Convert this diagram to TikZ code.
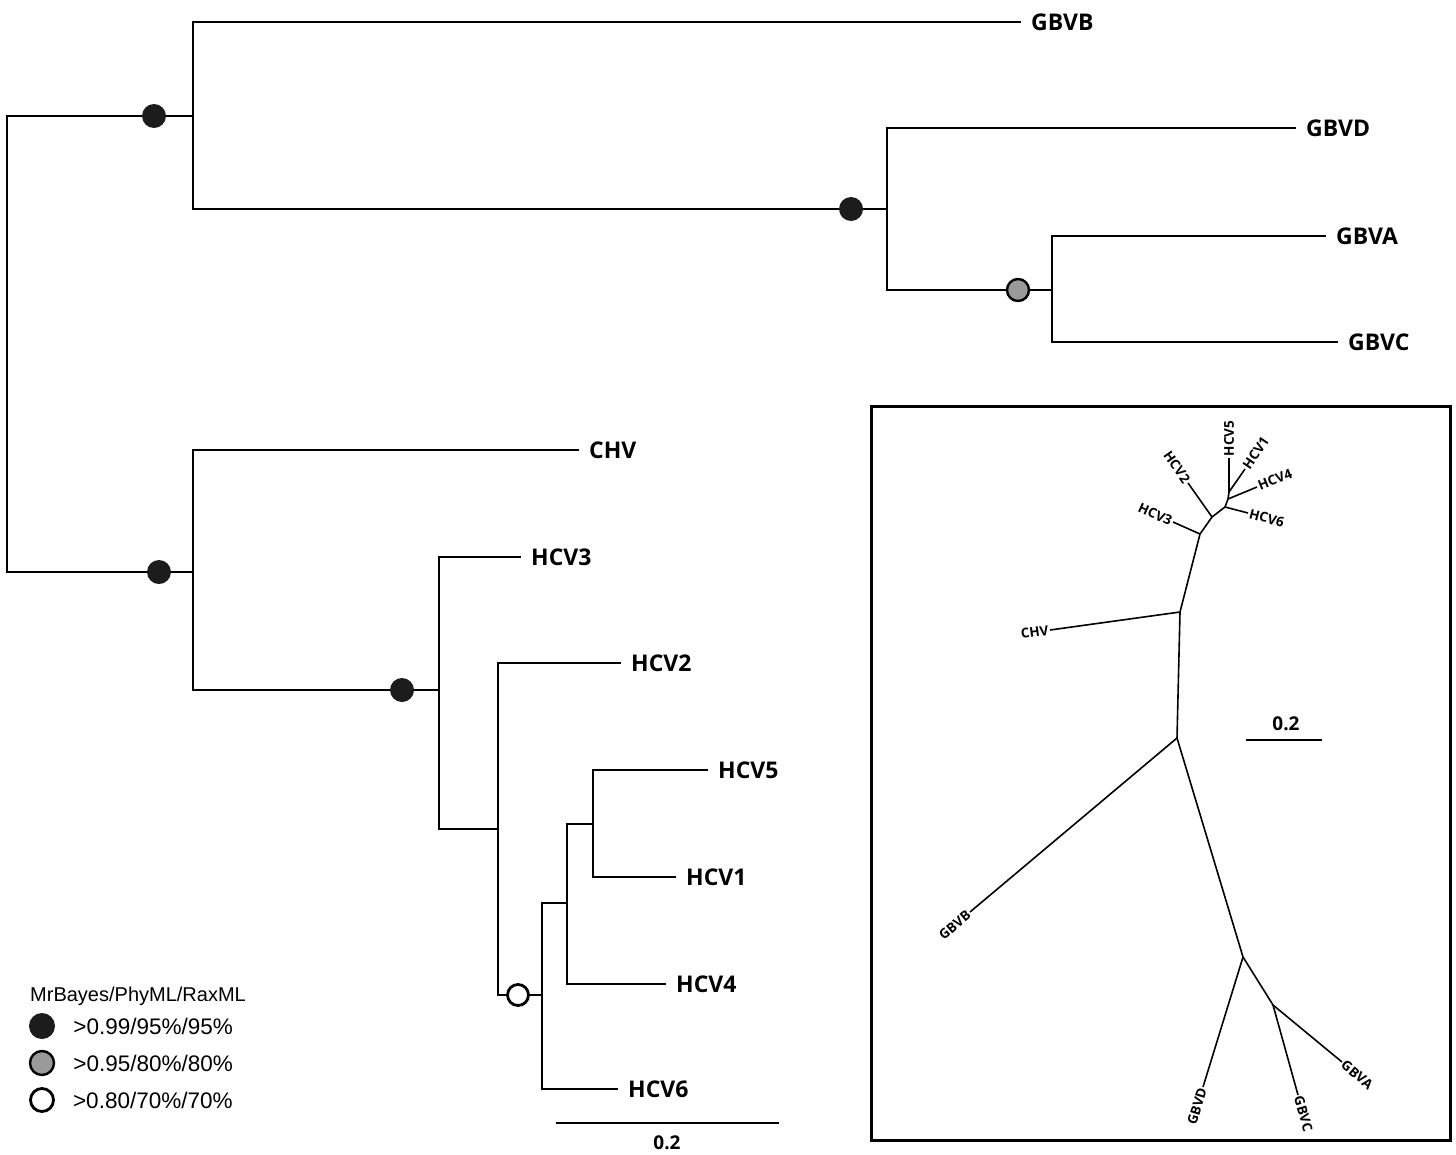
\documentclass[tikz,border=0pt]{standalone}
\usepackage{fontspec}
\setsansfont{Open Sans}
\newfontfamily\legendfont{Liberation Sans}
\usetikzlibrary{positioning}
\definecolor{ppdark}{HTML}{1C1C1C}
\definecolor{ppgrey}{HTML}{9A9A9A}

\begin{document}
\begin{tikzpicture}[x=1pt, y=-1pt,
  branch/.style={line width=1.6pt, line cap=rect},
  ubranch/.style={line width=1.6pt},
  taxon/.style={anchor=west, inner sep=0pt, inner xsep=11pt,
                font=\sffamily\bfseries\fontsize{23}{26}\selectfont},
  utaxon/.style={inner sep=1.5pt, font=\sffamily\bfseries\fontsize{13.5}{15}\selectfont},
  barlabel/.style={inner sep=0pt, font=\sffamily\bfseries\fontsize{19}{22}\selectfont},
  pp/.style={circle, minimum size=24pt, inner sep=0pt},
  pphigh/.style={pp, fill=ppdark},
  ppmid/.style={pp, fill=ppgrey, draw=black, line width=2.4pt, minimum size=22pt},
  pplow/.style={pp, fill=white, draw=black, line width=2.8pt, minimum size=21pt},
  legendtxt/.style={inner sep=0pt, font=\legendfont\fontsize{22.5}{26}\selectfont},
]
\useasboundingbox (0,0) rectangle (1456,1154);

% ---- Rooted tree: internal nodes ----
\coordinate (root)   at (7,344);
\coordinate (gbv)    at (193,116);
\coordinate (gbvdac) at (887,209);
\coordinate (gbvac)  at (1052,290);
\coordinate (hcvchv) at (193,572);
\coordinate (hcvall) at (439,690);
\coordinate (hcvsub) at (498,829);
\coordinate (hcvsix) at (542,995);
\coordinate (hcvfour) at (567,903);
\coordinate (hcvonefive) at (593,824);

% ---- Rooted tree: taxa ----
\node[taxon] (GBVB) at (1020,22)  {GBVB};
\node[taxon] (GBVD) at (1295,128) {GBVD};
\node[taxon] (GBVA) at (1325,236) {GBVA};
\node[taxon] (GBVC) at (1337,342) {GBVC};
\node[taxon] (CHV)  at (578,450)  {CHV};
\node[taxon] (HCV3) at (520,557)  {HCV3};
\node[taxon] (HCV2) at (620,663)  {HCV2};
\node[taxon] (HCV5) at (707,770)  {HCV5};
\node[taxon] (HCV1) at (675,877)  {HCV1};
\node[taxon] (HCV4) at (665,984)  {HCV4};
\node[taxon] (HCV6) at (617,1089) {HCV6};

% ---- Rooted tree: branches ----
\draw[branch] (gbv) -| (root) |- (hcvchv);
\draw[branch] (GBVB.west) -| (gbv);
\draw[branch] (gbvdac) -| (gbv);
\draw[branch] (GBVD.west) -| (gbvdac);
\draw[branch] (gbvac) -| (gbvdac);
\draw[branch] (GBVA.west) -| (gbvac);
\draw[branch] (GBVC.west) -| (gbvac);

\draw[branch] (CHV.west) -| (hcvchv);
\draw[branch] (hcvall) -| (hcvchv);
\draw[branch] (HCV3.west) -| (hcvall);
\draw[branch] (hcvsub) -| (hcvall);
\draw[branch] (HCV2.west) -| (hcvsub);
\draw[branch] (hcvsix) -| (hcvsub);
\draw[branch] (hcvfour) -| (hcvsix);
\draw[branch] (HCV6.west) -| (hcvsix);
\draw[branch] (hcvonefive) -| (hcvfour);
\draw[branch] (HCV4.west) -| (hcvfour);
\draw[branch] (HCV5.west) -| (hcvonefive);
\draw[branch] (HCV1.west) -| (hcvonefive);

% ---- Support values ----
\node[pphigh] (supgbv)  at (154,116) {};
\node[pphigh] (supgbvd) at (851,209) {};
\node[ppmid]  (supgbva) at (1018,290) {};
\node[pphigh] (suphcv)  at (159,572) {};
\node[pphigh] (supall)  at (402,690) {};
\node[pplow]  (supsix)  at (518,995) {};

% ---- Scale bar ----
\coordinate (barL) at (556,1123);
\coordinate (barR) at (779,1123);
\draw[line width=1.6pt] (barL) -- (barR);
\node[barlabel] (barval) at (667,1143) {0.2};

% ---- Legend ----
\node[legendtxt, anchor=west, font=\legendfont\fontsize{20}{24}\selectfont]
  (legtitle) at (30,996) {MrBayes/PhyML/RaxML};
\node[pphigh, minimum size=26pt] (leghigh) at (42,1026) {};
\node[ppmid, minimum size=24pt] (legmid) at (42,1063) {};
\node[pplow, minimum size=23pt] (leglow) at (42,1100) {};
\node[legendtxt, right=18pt of leghigh] (leghightxt) {>0.99/95\%/95\%};
\node[legendtxt, right=18pt of legmid] (legmidtxt) {>0.95/80\%/80\%};
\node[legendtxt, right=18pt of leglow] (leglowtxt) {>0.80/70\%/70\%};

% ---- Inset: unrooted tree ----
\draw[line width=3pt] (871,406) rectangle (1450,1140);

\coordinate (ua) at (1177,738);
\coordinate (ub) at (1180,612);
\coordinate (uc) at (1200,534);
\coordinate (ud) at (1212,517);
\coordinate (ue) at (1225,507);
\coordinate (uf) at (1228,499);
\coordinate (ug) at (1229,492);
\coordinate (uh) at (1243,957);
\coordinate (ui) at (1273,1005);

\node[utaxon, anchor=east, rotate=8]   (uCHV)  at (1050,630)  {CHV};
\node[utaxon, anchor=east, rotate=40]  (uGBVB) at (970,912)   {GBVB};
\node[utaxon, anchor=east, rotate=-24] (uHCV3) at (1173,522)  {HCV3};
\node[utaxon, anchor=east, rotate=-55] (uHCV2) at (1188,483)  {HCV2};
\node[utaxon, anchor=west, rotate=90]  (uHCV5) at (1229,458)  {HCV5};
\node[utaxon, anchor=west, rotate=56]  (uHCV1) at (1245,469)  {HCV1};
\node[utaxon, anchor=west, rotate=22]  (uHCV4) at (1257,487)  {HCV4};
\node[utaxon, anchor=west, rotate=-15] (uHCV6) at (1248,513)  {HCV6};
\node[utaxon, anchor=east, rotate=73]  (uGBVD) at (1203,1087) {GBVD};
\node[utaxon, anchor=west, rotate=-74] (uGBVC) at (1298,1095) {GBVC};
\node[utaxon, anchor=west, rotate=-40] (uGBVA) at (1342,1062) {GBVA};

\draw[ubranch] (uGBVB.east) -- (ua) -- (ub) -- (uc) -- (ud) -- (ue) -- (uf) -- (ug) -- (uHCV5.west);
\draw[ubranch] (ub) -- (uCHV.east);
\draw[ubranch] (uc) -- (uHCV3.east);
\draw[ubranch] (ud) -- (uHCV2.east);
\draw[ubranch] (ue) -- (uHCV6.west);
\draw[ubranch] (uf) -- (uHCV4.west);
\draw[ubranch] (ug) -- (uHCV1.west);
\draw[ubranch] (ua) -- (uh) -- (ui) -- (uGBVA.west);
\draw[ubranch] (uh) -- (uGBVD.east);
\draw[ubranch] (ui) -- (uGBVC.west);

% ---- Inset scale bar ----
\coordinate (ubarL) at (1246,740);
\coordinate (ubarR) at (1322,740);
\draw[line width=1.6pt] (ubarL) -- (ubarR);
\node[barlabel] (ubarval) at (1286,724) {0.2};

\end{tikzpicture}
\end{document}
